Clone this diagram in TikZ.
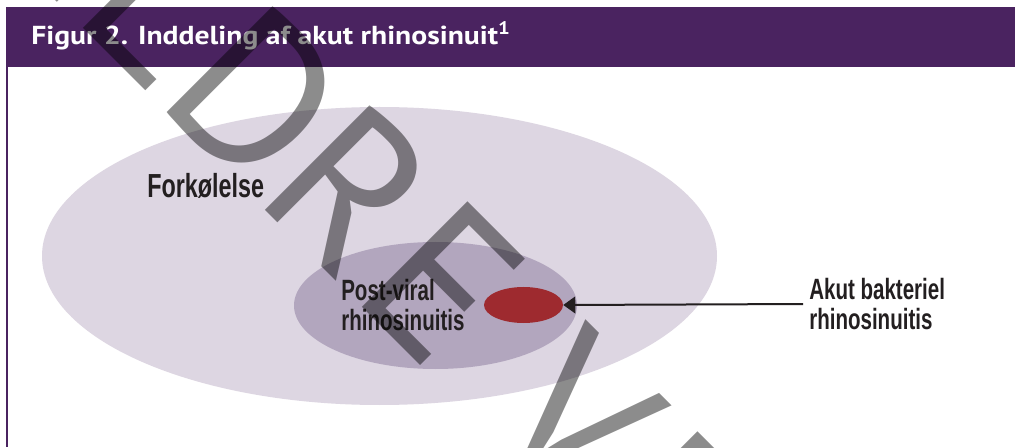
\documentclass[tikz,border=0pt]{standalone}
\usepackage{fontspec}
\setmainfont{PT Sans}
\newfontfamily\titlefont[FakeStretch=1.14]{PT Sans}
\newfontfamily\condfont[FakeStretch=0.7]{Liberation Sans}
\newfontfamily\markfont{PT Sans}
\usetikzlibrary{shapes.geometric,arrows.meta}
\definecolor{barpurple}{RGB}{74,35,96}
\definecolor{coldlav}{RGB}{221,214,226}
\definecolor{postlav}{RGB}{178,166,190}
\definecolor{bactred}{RGB}{158,42,47}
\definecolor{ink}{RGB}{35,31,32}
\begin{document}
\begin{tikzpicture}[x=0.75pt,y=0.75pt,
  area/.style={ellipse, inner sep=0pt},
  tag/.style={font=\condfont\bfseries\fontsize{22}{22.5}\selectfont, text=ink, align=left, inner sep=0pt},
  stamp/.style={rotate=-45, anchor=base west, inner sep=0pt, text=black, text opacity=0.45,
    font=\markfont\fontsize{160}{160}\selectfont}]
  \useasboundingbox (0,0) rectangle (1015,447);
  \fill[white] (0,0) rectangle (1015,447);
  % header
  \fill[barpurple] (6,380) rectangle (1015,440);
  \draw[barpurple, line width=0.9pt] (7,380) -- (7,0);
  \node[anchor=base west, inner sep=0pt, text=white,
    font=\titlefont\bfseries\fontsize{19.5}{20}\selectfont] (title) at (31,402)
    {Figur 2. Inddeling af akut rhinosinuit\textsuperscript{1}};
  % sets (sizes in pt: 1px = 0.75pt)
  \node[area, fill=coldlav, minimum width=506.25pt, minimum height=223.5pt] (cold) at (379.5,191) {};
  \node[area, fill=postlav, minimum width=212.25pt, minimum height=95.25pt] (postviral) at (435.5,141.5) {};
  \node[area, fill=bactred, minimum width=59.25pt, minimum height=27pt] (bacterial) at (523.5,142) {};
  \node[tag, anchor=base west, font=\condfont\bfseries\fontsize{25}{26}\selectfont] (coldtxt) at (147,249) {Forkølelse};
  \node[tag, anchor=north west] (posttxt) at (341,168) {Post-viral\\rhinosinuitis};
  \node[tag, anchor=west] (bacttxt) at (809,143) {Akut bakteriel\\rhinosinuitis};
  \draw[ink, line width=1.5pt, -{Triangle[length=9pt,width=12.5pt]}, shorten <=4.5pt]
    (bacttxt.west) -- (bacterial.east);
  % watermark, letter by letter along the diagonal
  \begin{scope}[shift={(0,447)}, rotate=-45]
    \foreach \ch/\b in {Æ/-125, L/60, D/179, R/318, E/455, V/640, E/780, R/915,
        S/1050, I/1180, O/1240, N/1400}
      \node[stamp] (mark\b) at (\b,39) {\ch};
  \end{scope}
\end{tikzpicture}
\end{document}
